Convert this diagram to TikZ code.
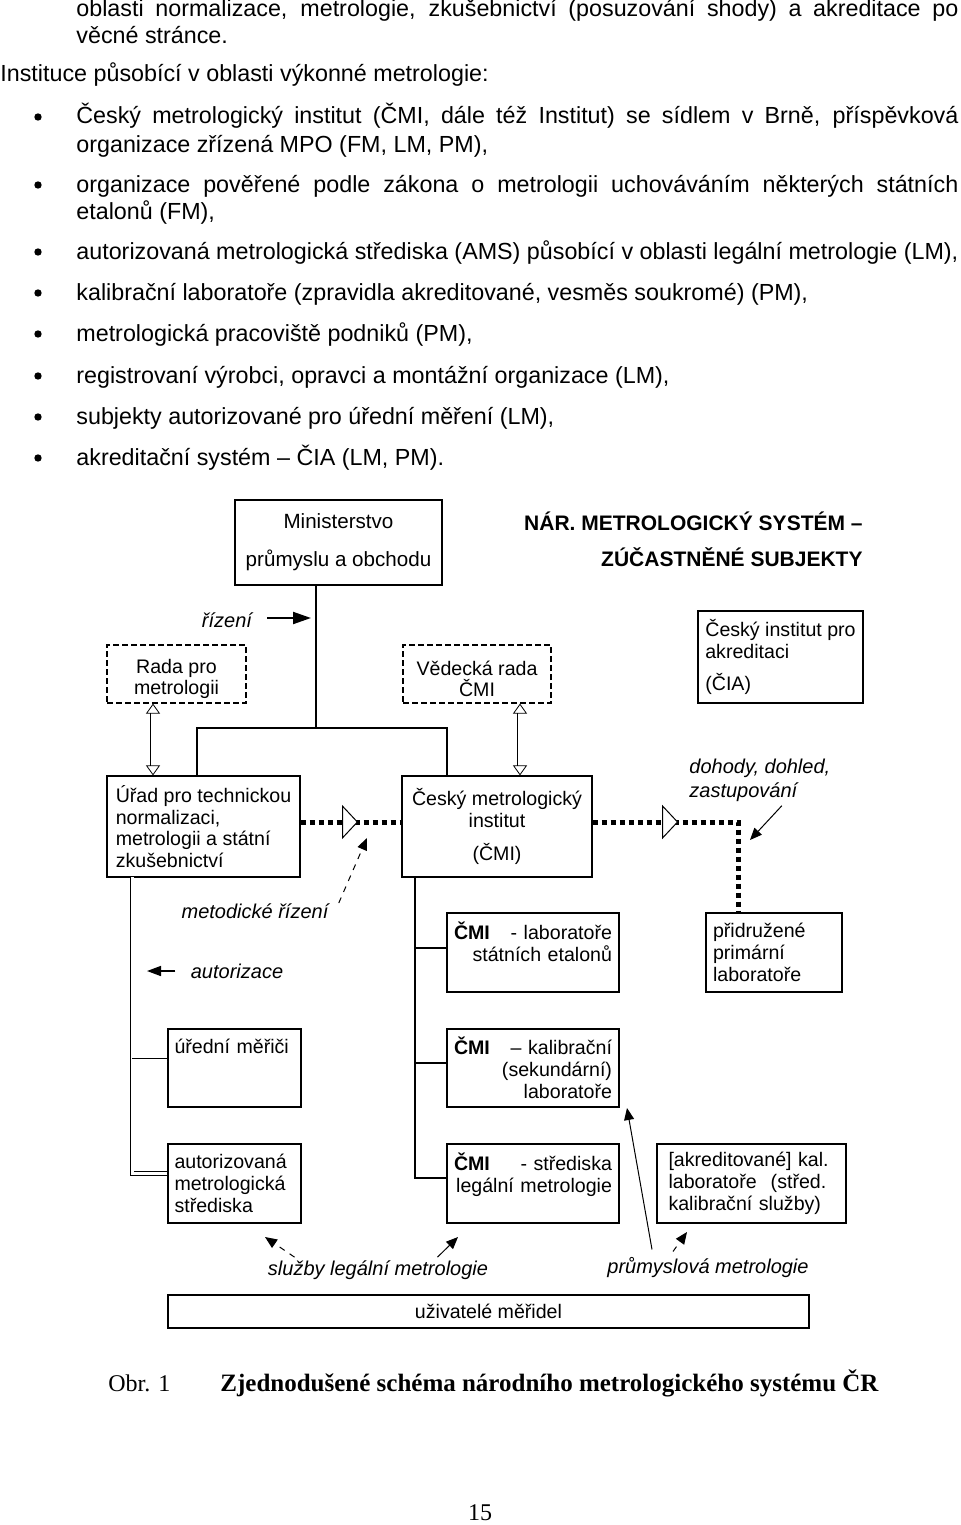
\documentclass[tikz,border=0pt]{standalone}
\usepackage{fontspec}
\setmainfont{Liberation Sans}
\newfontfamily\capfont{Liberation Serif}
\usetikzlibrary{arrows.meta,decorations.markings,calc}

\begin{document}
\begin{tikzpicture}[x=0.5pt,y=-0.5pt,
body/.style={anchor=base west, inner sep=0pt, font=\fontsize{11.65}{14}\selectfont},
dot/.style={circle, fill=black, inner sep=0pt, minimum size=3.7pt},
box/.style={draw, line width=0.6pt, inner sep=0pt, font=\fontsize{9.8}{10.9}\selectfont},
council/.style={box, dash pattern=on 3pt off 1.5pt},
lbl/.style={inner sep=0pt, font=\fontsize{10}{12}\selectfont\itshape},
trunk/.style={line width=1.1pt},
dline/.style={double, double distance=1.5pt, line width=0.35pt},
dotline/.style={line width=2.5pt, dash pattern=on 2.5pt off 2pt},
note/.style={line width=0.5pt, -{Triangle[length=6pt,width=5pt]}},
twoway/.style={double, double distance=2.5pt, line width=0.4pt,
  {Triangle[open,length=5pt,width=7pt]}-{Triangle[open,length=5pt,width=7pt]}},
midtri/.style={postaction={decorate}, decoration={markings,
  mark=at position #1 with {\arrow{Triangle[fill=white,line width=0.5pt,length=8pt,width=17pt]}}}}]

\useasboundingbox (0,0) rectangle (960,1525);

% text above the figure
\node[body] (p1) at (76,17) {\makebox[441pt][s]{oblasti normalizace, metrologie, zkušebnictví (posuzování shody) a akreditace po}};
\node[body] (p2) at (76,44) {věcné stránce.};
\node[body] (p3) at (0,82) {Instituce působící v oblasti výkonné metrologie:};
\node[body] (i1a) at (76,124) {\makebox[441pt][s]{Český metrologický institut (ČMI, dále též Institut) se sídlem v Brně, příspěvková}};
\node[body] (i1b) at (76,152) {organizace zřízená MPO (FM, LM, PM),};
\node[body] (i2a) at (76,192) {\makebox[441pt][s]{organizace pověřené podle zákona o metrologii uchováváním některých státních}};
\node[body] (i2b) at (76,219) {etalonů (FM),};
\node[body] (i3) at (76,259) {autorizovaná metrologická střediska (AMS) působící v oblasti legální metrologie (LM),};
\node[body] (i4) at (76,300) {kalibrační laboratoře (zpravidla akreditované, vesměs soukromé) (PM),};
\node[body] (i5) at (76,341) {metrologická pracoviště podniků (PM),};
\node[body] (i6) at (76,383) {registrovaní výrobci, opravci a montážní organizace (LM),};
\node[body] (i7) at (76,424) {subjekty autorizované pro úřední měření (LM),};
\node[body] (i8) at (76,465) {akreditační systém – ČIA (LM, PM).};
\foreach \y [count=\k] in {124,192,259,300,341,383,424,465}
  \node[dot] (dot\k) at (38,\y-7) {};

% boxes
\node[box, minimum width=103.5pt, minimum height=42.5pt, align=center, font=\fontsize{10.3}{11.4}\selectfont] (mpo) at (338.5,542.5) {Ministerstvo\\[7.5pt]průmyslu a obchodu};
\node[anchor=east, inner sep=0pt, align=right, font=\fontsize{10.5}{12.6}\bfseries] (title) at (863,539) {NÁR. METROLOGICKÝ SYSTÉM –\\[5.4pt]ZÚČASTNĚNÉ SUBJEKTY};
\node[council, minimum width=69.5pt, minimum height=29pt, align=center] (rada) at (176.5,674) {\rule{0pt}{12pt}Rada pro\\metrologii};
\node[council, minimum width=74pt, minimum height=29pt, align=center] (vrada) at (477,674) {\rule{0pt}{12pt}Vědecká rada\\ČMI};
\node[box, minimum width=82.5pt, minimum height=46pt, align=left] (cia) at (780.5,657) {Český institut pro\\akreditaci\\[5.5pt](ČIA)};
\node[box, minimum width=96.5pt, minimum height=50.5pt, align=left] (unmz) at (203.5,826.5) {Úřad pro technickou\\normalizaci,\\metrologii a státní\\zkušebnictví};
\node[box, minimum width=95pt, minimum height=50.5pt, align=center] (cmi) at (497,826.5) {Český metrologický\\institut\\[6pt](ČMI)};
\node[box, minimum width=86pt, minimum height=39.5pt, text width=79pt, align=left] (etal) at (533,952.5) {\textbf{ČMI}\hfill- laboratoře\\\hfill státních etalonů\\\mbox{}};
\node[box, minimum width=68pt, minimum height=39.5pt, text width=61pt, align=left] (pridr) at (774,952.5) {přidružené\\primární\\laboratoře};
\node[box, minimum width=66.5pt, minimum height=39pt, text width=60pt, align=left] (urad) at (234.5,1068) {úřední měřiči\\\mbox{}\\\mbox{}};
\node[box, minimum width=86pt, minimum height=39pt, text width=79pt, align=left] (kalib) at (533,1068) {\textbf{ČMI}\hfill– kalibrační\\\hfill(sekundární)\\\hfill laboratoře};
\node[box, minimum width=66.5pt, minimum height=39.5pt, text width=60pt, align=left] (autms) at (234.5,1183.5) {autorizovaná\\metrologická\\střediska};
\node[box, minimum width=86pt, minimum height=39.5pt, text width=79pt, align=left] (stred) at (533,1183.5) {\textbf{ČMI}\hfill- střediska\\\hfill legální metrologie\\\mbox{}};
\node[box, minimum width=94.5pt, minimum height=39.5pt, text width=83pt, align=left] (akred) at (751.5,1183.5) {[akreditované] kal.\\laboratoře\hspace{7pt}(střed.\\kalibrační služby)};
\node[box, minimum width=320.5pt, minimum height=16.5pt] (uziv) at (488.5,1311.5) {uživatelé měřidel};

% labels
\node[lbl] (rizeni) at (227,620) {řízení};
\node[lbl] (metod) at (255,911) {metodické řízení};
\node[lbl] (autor) at (237,971) {autorizace};
\node[lbl, anchor=west, align=left] (dohody) at (689,780) {dohody, dohled,\\zastupování};
\node[lbl] (sluzby) at (378,1270) {služby legální metrologie};
\node[lbl] (prum) at (708,1267) {průmyslová metrologie};

% connectors
\coordinate (split) at (316,728);
\coordinate (barL) at (197,728);
\coordinate (barR) at (447,728);
\draw[trunk] (mpo.south -| split) -- (split);
\draw[trunk] (unmz.north -| barL) |- (barR) -- (cmi.north -| barR);

\coordinate (leftlink) at (153,700);
\coordinate (rightlink) at (520,700);
\draw[twoway] (rada.south -| leftlink) -- (unmz.north -| leftlink);
\draw[twoway] (vrada.south -| rightlink) -- (cmi.north -| rightlink);

\draw[dotline, midtri=0.57] ([yshift=2.25pt]unmz.east) -- ([yshift=2.25pt]cmi.west);
\coordinate (elbow) at (738,822);
\draw[dotline, midtri=0.363] ([yshift=2.25pt]cmi.east) -- (elbow) -- (pridr.north -| elbow);

\coordinate (spine) at (415,877);
\draw[trunk] ([yshift=2.75pt]stred.west) -| (spine);
\draw[trunk] ([yshift=2.25pt]etal.west) -| (spine);
\draw[trunk] ([yshift=2.5pt]kalib.west) -| (spine);

\coordinate (lspine) at (132,877);
\draw[dline] ([yshift=5pt]autms.west) -| (lspine);
\draw[dline] ([yshift=4pt]urad.west) -- ++(-35,0);

% small arrows
\coordinate (rizenitip) at (311,618);
\draw[line width=1pt, -{Triangle[length=9pt,width=6pt]}] ($(rizeni.east)+(15,-2)$) -- (rizenitip);
\coordinate (metodtip) at (367,838);
\draw[note, dashed] ($(metod.east)+(10,-8)$) -- (metodtip);
\coordinate (autortip) at (147,971);
\draw[line width=0.8pt, -{Triangle[length=7pt,width=5pt]}] ($(autor.west)+(-15,0)$) -- (autortip);
\coordinate (dohodytip) at (750,840);
\draw[note] ($(dohody.south)+(22,4)$) -- (dohodytip);
\coordinate (sluzbyL) at (265,1237);
\coordinate (sluzbyR) at (458,1237);
\draw[note, dashed] ($(sluzby.north west)+(27,-3)$) -- (sluzbyL);
\draw[note] ($(sluzby.north east)+(-51,-3)$) -- (sluzbyR);
\coordinate (prumL) at (627,1108);
\coordinate (prumR) at (687,1232);
\draw[note] ($(prum.north west)+(45,-7)$) -- (prumL);
\draw[note, dashed] ($(prum.north west)+(66,-5)$) -- (prumR);

% caption
\node[anchor=west, inner sep=0pt, font=\capfont\fontsize{12}{14}\selectfont] (obr) at (108,1383) {Obr. 1};
\node[anchor=west, inner sep=0pt, font=\capfont\fontsize{12.5}{14}\selectfont\bfseries] (capt) at (220,1383) {Zjednodušené schéma národního metrologického systému ČR};
\node[inner sep=0pt, font=\capfont\fontsize{12}{14}\selectfont] (page) at (480,1513) {15};
\end{tikzpicture}
\end{document}
